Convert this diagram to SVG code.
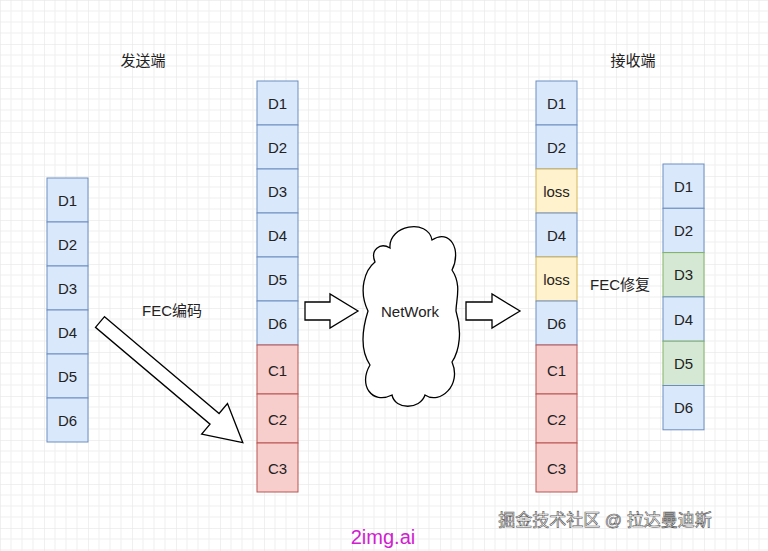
<svg xmlns="http://www.w3.org/2000/svg" width="768" height="551" viewBox="0 0 768 551">
<defs>
<pattern id="g" width="44" height="44" patternUnits="userSpaceOnUse" x="0" y="0">
<path d="M11 0V44M22 0V44M33 0V44M0 11H44M0 22H44M0 33H44" stroke="#efefef" stroke-width="1" fill="none"/>
<path d="M0 0V44M0 0H44" stroke="#e2e2e2" stroke-width="1" fill="none"/>
</pattern>
<style>
text{font-family:"Liberation Sans","Noto Sans CJK SC",sans-serif;font-size:15px;fill:#222;text-anchor:middle;dominant-baseline:central}
.b{fill:#dae8fc;stroke:#6c8ebf}
.y{fill:#fff2cc;stroke:#d6b656}
.r{fill:#f8cecc;stroke:#b85450}
.gr{fill:#d5e8d4;stroke:#82b366}
.a{fill:#fff;stroke:#000;stroke-width:1.3}
</style>
</defs>
<rect width="768" height="551" fill="#fff"/>
<rect width="768" height="551" fill="url(#g)"/>
<text x="143" y="60">发送端</text>
<text x="633" y="60">接收端</text>
<g id="col1">
<rect class="b" x="47" y="178" width="41" height="44"/><text x="67.5" y="200">D1</text>
<rect class="b" x="47" y="222" width="41" height="44"/><text x="67.5" y="244">D2</text>
<rect class="b" x="47" y="266" width="41" height="44"/><text x="67.5" y="288">D3</text>
<rect class="b" x="47" y="310" width="41" height="44"/><text x="67.5" y="332">D4</text>
<rect class="b" x="47" y="354" width="41" height="44"/><text x="67.5" y="376">D5</text>
<rect class="b" x="47" y="398" width="41" height="44"/><text x="67.5" y="420">D6</text>
</g>
<g id="col2">
<rect class="b" x="257" y="81" width="41" height="44"/><text x="277.5" y="103">D1</text>
<rect class="b" x="257" y="125" width="41" height="44"/><text x="277.5" y="147">D2</text>
<rect class="b" x="257" y="169" width="41" height="44"/><text x="277.5" y="191">D3</text>
<rect class="b" x="257" y="213" width="41" height="44"/><text x="277.5" y="235">D4</text>
<rect class="b" x="257" y="257" width="41" height="44"/><text x="277.5" y="279">D5</text>
<rect class="b" x="257" y="301" width="41" height="44"/><text x="277.5" y="323">D6</text>
<rect class="r" x="257" y="345" width="41" height="49"/><text x="277.5" y="370">C1</text>
<rect class="r" x="257" y="394" width="41" height="49"/><text x="277.5" y="419">C2</text>
<rect class="r" x="257" y="443" width="41" height="49"/><text x="277.5" y="468">C3</text>
</g>
<g id="col3">
<rect class="b" x="536" y="81" width="41" height="44"/><text x="556.5" y="103">D1</text>
<rect class="b" x="536" y="125" width="41" height="44"/><text x="556.5" y="147">D2</text>
<rect class="y" x="536" y="169" width="41" height="44"/><text x="556.5" y="191">loss</text>
<rect class="b" x="536" y="213" width="41" height="44"/><text x="556.5" y="235">D4</text>
<rect class="y" x="536" y="257" width="41" height="44"/><text x="556.5" y="279">loss</text>
<rect class="b" x="536" y="301" width="41" height="44"/><text x="556.5" y="323">D6</text>
<rect class="r" x="536" y="345" width="41" height="49"/><text x="556.5" y="370">C1</text>
<rect class="r" x="536" y="394" width="41" height="49"/><text x="556.5" y="419">C2</text>
<rect class="r" x="536" y="443" width="41" height="49"/><text x="556.5" y="468">C3</text>
</g>
<g id="col4">
<rect class="b" x="663" y="164" width="41" height="44.3"/><text x="683.5" y="186">D1</text>
<rect class="b" x="663" y="208.3" width="41" height="44.3"/><text x="683.5" y="230.5">D2</text>
<rect class="gr" x="663" y="252.6" width="41" height="44.3"/><text x="683.5" y="274.8">D3</text>
<rect class="b" x="663" y="296.9" width="41" height="44.3"/><text x="683.5" y="319">D4</text>
<rect class="gr" x="663" y="341.2" width="41" height="44.3"/><text x="683.5" y="363.3">D5</text>
<rect class="b" x="663" y="385.5" width="41" height="44.3"/><text x="683.5" y="407.6">D6</text>
</g>
<g id="network">
<path class="a" d="M390 248 C388 225 428 218 432 240 C450 228 462 250 452 270 C462 285 456 300 456 311 C462 330 460 350 452 362 C462 385 440 405 425 395 C420 410 395 410 392 395 C372 405 358 385 370 365 C360 350 362 330 368 311 C358 290 365 270 375 262 C370 250 380 242 390 248 Z"/>
<text x="410" y="311">NetWork</text>
</g>
<g id="connectors">
<path class="a" transform="translate(100,322) rotate(40.2)" d="M0 -7 H150 V-20 L187 0 L150 20 V7 H0 Z"/>
<path class="a" d="M305 302 H330 V294 L358 311 L330 328 V320 H305 Z"/>
<path class="a" d="M466 302 H492 V294 L520 311 L492 328 V320 H466 Z"/>
</g>
<text x="172" y="310">FEC编码</text>
<text x="620" y="284">FEC修复</text>
<text x="605" y="520" style="font-size:17px;fill:#fff;stroke:#555;stroke-width:0.6">掘金技术社区 @ 拉达曼迪斯</text>
<text x="383" y="537" style="font-size:20px;fill:#d020d0">2img.ai</text>
</svg>
